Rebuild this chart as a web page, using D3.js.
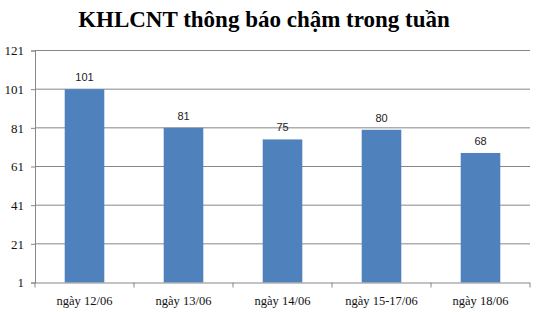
<!DOCTYPE html>
<html>
<head>
<meta charset="utf-8">
<script src="https://cdn.jsdelivr.net/npm/d3@7"></script>
<style>
  body { margin: 0; background: #fff; }
</style>
</head>
<body>
<div id="chart"></div>
<script>
// Chart data
const categories = ["ngày 12/06", "ngày 13/06", "ngày 14/06", "ngày 15-17/06", "ngày 18/06"];
const values = [101, 81, 75, 80, 68];
const yTicks = [1, 21, 41, 61, 81, 101, 121];

const width = 536;
const height = 312;
const margin = { top: 50.5, right: 6, bottom: 29.5, left: 35 };

const svg = d3.select("#chart")
    .append("svg")
    .attr("width", width)
    .attr("height", height);

// Title
svg.append("text")
    .attr("x", 264)
    .attr("y", 27)
    .attr("text-anchor", "middle")
    .style("font-family", "'Liberation Serif', 'Times New Roman', serif")
    .style("font-weight", "bold")
    .style("font-size", "23px")
    .text("KHLCNT thông báo chậm trong tuần");

const x = d3.scaleBand()
    .domain(categories)
    .range([margin.left, width - margin.right])
    .paddingInner(0.6)
    .paddingOuter(0.3);

const y = d3.scaleLinear()
    .domain([1, 121])
    .range([height - margin.bottom, margin.top]);

// Horizontal gridlines
svg.append("g")
    .selectAll("line")
    .data(yTicks.slice(1))
    .join("line")
    .attr("x1", margin.left)
    .attr("x2", width - margin.right)
    .attr("y1", d => y(d))
    .attr("y2", d => y(d))
    .attr("stroke", "#878787")
    .attr("stroke-width", 1);

// Bars
svg.append("g")
    .selectAll("rect")
    .data(values)
    .join("rect")
    .attr("x", (d, i) => x(categories[i]))
    .attr("y", d => y(d))
    .attr("width", x.bandwidth())
    .attr("height", d => y(1) - y(d))
    .attr("fill", "#4F81BD");

// Value labels
svg.append("g")
    .selectAll("text")
    .data(values)
    .join("text")
    .attr("x", (d, i) => x(categories[i]) + x.bandwidth() / 2)
    .attr("y", d => y(d) - 8)
    .attr("text-anchor", "middle")
    .style("font-family", "'Liberation Sans', Arial, sans-serif")
    .style("font-size", "11px")
    .attr("fill", "#222")
    .text(d => d);

// Y axis
const yAxis = svg.append("g")
    .attr("transform", `translate(${margin.left},0)`)
    .call(d3.axisLeft(y).tickValues(yTicks).tickSize(4).tickPadding(7));

yAxis.select(".domain").attr("stroke", "#878787");
yAxis.selectAll(".tick line").attr("stroke", "#878787");
yAxis.selectAll(".tick text")
    .style("font-family", "'Liberation Serif', 'Times New Roman', serif")
    .style("font-size", "13px")
    .attr("fill", "#111");

// X axis
const xAxis = svg.append("g")
    .attr("transform", `translate(0,${y(1)})`)
    .call(d3.axisBottom(x).tickSize(0).tickPadding(14));

xAxis.select(".domain").attr("stroke", "#878787").attr("d", `M${margin.left},0.5H${width - margin.right}`);
xAxis.selectAll(".tick text")
    .style("font-family", "'Liberation Serif', 'Times New Roman', serif")
    .style("font-size", "12.5px")
    .attr("fill", "#111");

// Category boundary ticks
const step = x.step();
const bounds = d3.range(categories.length + 1).map(i => margin.left + i * step);
xAxis.append("g")
    .selectAll("line")
    .data(bounds)
    .join("line")
    .attr("x1", d => d)
    .attr("x2", d => d)
    .attr("y1", 0)
    .attr("y2", 5)
    .attr("stroke", "#878787");
</script>
</body>
</html>
